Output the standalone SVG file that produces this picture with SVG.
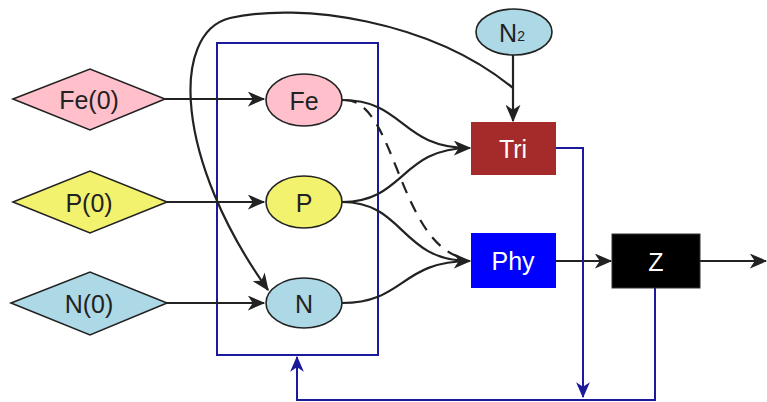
<svg xmlns="http://www.w3.org/2000/svg" width="767" height="402" viewBox="0 0 767 402">
<style>
text{font-family:"Liberation Sans",Arial,sans-serif;text-anchor:middle;dominant-baseline:central}
.lbl{font-size:25px;fill:#222}
.wl{font-size:25px;fill:#fff}
.nd{stroke:#222;stroke-width:1.6}
.c{fill:none;stroke:#222;stroke-width:2.2}
.b{fill:none;stroke:#1a1a9a;stroke-width:2}
</style>
<defs>
<marker id="ab" viewBox="0 0 14 12" refX="13" refY="6" markerWidth="18" markerHeight="15" markerUnits="userSpaceOnUse" orient="auto"><path d="M0,0 L14,6 L0,12 L4,6 z" fill="#222"/></marker>
<marker id="au" viewBox="0 0 14 12" refX="13" refY="6" markerWidth="16" markerHeight="14" markerUnits="userSpaceOnUse" orient="auto"><path d="M0,0 L14,6 L0,12 L4,6 z" fill="#1a1a9a"/></marker>
</defs>
<rect width="767" height="402" fill="#fff"/>
<g id="connectors">
<rect x="217" y="43" width="161" height="312" class="b"/>
<path class="c" d="M165 99 L264 99" marker-end="url(#ab)"/>
<path class="c" d="M167 202 L264 202" marker-end="url(#ab)"/>
<path class="c" d="M167 303 L264 303" marker-end="url(#ab)"/>
<path class="c" d="M513 88 C430 20 300 2 230 18 C170 33 175 160 268 290" marker-end="url(#ab)"/>
<path class="c" d="M513 55 L513 121" marker-end="url(#ab)"/>
<path class="c" d="M342 100 C405 100 400 148 470 148" marker-end="url(#ab)"/>
<path class="c" d="M342 202 C405 202 400 148 470 148"/>
<path class="c" d="M342 202 C405 202 400 261 470 261" marker-end="url(#ab)"/>
<path class="c" d="M342 303 C405 303 400 261 470 261"/>
<path class="c" d="M345 100 C395 100 398 240 462 258" stroke-dasharray="12 9" stroke-width="1.8"/>
<path class="c" d="M556 261 L611 261" marker-end="url(#ab)"/>
<path class="c" d="M700 261 L766 261" marker-end="url(#ab)"/>
<path class="b" d="M556 148 L583 148 L583 397" marker-end="url(#au)"/>
<path class="b" d="M655 288 L655 400 L297 400 L297 357" marker-end="url(#au)"/>
</g>
<g id="Fe0"><polygon class="nd" points="13,99 90,69 165,99 90,130" fill="#ffc0cb"/><text class="lbl" x="89" y="100">Fe(0)</text></g>
<g id="P0"><polygon class="nd" points="13,202 90,171 167,202 90,233" fill="#f2f26e"/><text class="lbl" x="89" y="203">P(0)</text></g>
<g id="N0"><polygon class="nd" points="11,303 90,272 167,303 90,335" fill="#add8e6"/><text class="lbl" x="89" y="304">N(0)</text></g>
<g id="Fe"><ellipse class="nd" cx="304" cy="100" rx="38" ry="26" fill="#ffc0cb"/><text class="lbl" x="304" y="101">Fe</text></g>
<g id="P"><ellipse class="nd" cx="304" cy="202" rx="38" ry="26" fill="#f2f26e"/><text class="lbl" x="304" y="203">P</text></g>
<g id="N"><ellipse class="nd" cx="304" cy="303" rx="38" ry="25" fill="#add8e6"/><text class="lbl" x="304" y="304">N</text></g>
<g id="N2"><ellipse class="nd" cx="514" cy="32" rx="38" ry="23" fill="#add8e6"/><text class="lbl" x="512" y="33" font-size="23">N<tspan font-size="14" dy="3">2</tspan></text></g>
<g id="Tri"><rect x="471" y="122" width="85" height="53" fill="#a52a2a"/><text class="wl" x="513" y="149">Tri</text></g>
<g id="Phy"><rect x="471" y="233" width="85" height="55" fill="#0000ff"/><text class="wl" x="513" y="261">Phy</text></g>
<g id="Z"><rect x="612" y="234" width="88" height="54" fill="#000" stroke="#333" stroke-width="1"/><text class="wl" x="656" y="262">Z</text></g>
</svg>
